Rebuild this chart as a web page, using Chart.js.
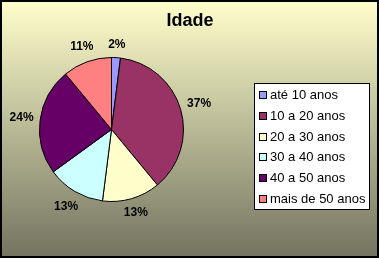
<!DOCTYPE html>
<html lang="pt">
<head>
  <meta charset="UTF-8" />
  <title>Idade</title>
  <script src="https://cdn.jsdelivr.net/npm/chart.js@4.4.1/dist/chart.umd.min.js"></script>
  <style>
    html, body { margin: 0; padding: 0; background: #fff; }
    #chart { display: block; }
  </style>
</head>
<body>
  <canvas id="chart" width="379" height="258"></canvas>

  <script>
    // dados
    const faixas = ['até 10 anos', '10 a 20 anos', '20 a 30 anos', '30 a 40 anos', '40 a 50 anos', 'mais de 50 anos'];
    const percentuais = [2, 37, 13, 13, 24, 11];
    const cores = ['#9999FF', '#993366', '#FFFFCC', '#CCFFFF', '#660066', '#FF8080'];
    const titulo = 'Idade';

    // fundo em degrade + moldura preta
    const fundo = {
      id: 'fundo',
      beforeDraw(chart) {
        const c = chart.ctx;
        const g = c.createLinearGradient(0, 0, 0, chart.height);
        g.addColorStop(0, '#FFFFCC');
        g.addColorStop(1, '#737360');
        c.save();
        c.fillStyle = g;
        c.fillRect(0, 0, chart.width, chart.height);
        c.strokeStyle = '#000';
        c.lineWidth = 2;
        c.strokeRect(1, 1, chart.width - 2, chart.height - 2);
        c.restore();
      }
    };

    // titulo, rotulos de porcentagem e legenda
    const extras = {
      id: 'extras',
      afterDraw(chart) {
        const c = chart.ctx;
        c.save();
        c.fillStyle = '#000';
        c.textAlign = 'center';
        c.textBaseline = 'middle';
        c.font = 'bold 18px Arial, "Liberation Sans"';
        c.fillText(titulo, 190, 21);

        c.font = 'bold 12px Arial, "Liberation Sans"';
        const meta = chart.getDatasetMeta(0);
        meta.data.forEach((arc, i) => {
          const p = arc.getProps(['x', 'y', 'startAngle', 'endAngle', 'outerRadius'], true);
          const a = (p.startAngle + p.endAngle) / 2;
          const txt = percentuais[i] + '%';
          const hw = c.measureText(txt).width / 2;
          const hh = 6;
          const d = p.outerRadius + 6 + hw * Math.abs(Math.cos(a)) + hh * Math.abs(Math.sin(a));
          c.fillText(txt, p.x + Math.cos(a) * d, p.y + Math.sin(a) * d);
        });

        // legenda
        const lx = 254, ly = 83, lw = 115, lh = 126;
        c.fillStyle = '#fff';
        c.fillRect(lx, ly, lw, lh);
        c.strokeStyle = '#000';
        c.lineWidth = 1;
        c.strokeRect(lx + 0.5, ly + 0.5, lw, lh);
        c.font = '13px Arial, "Liberation Sans"';
        c.textAlign = 'left';
        faixas.forEach((f, i) => {
          const y = 95 + i * 20.8;
          c.fillStyle = cores[i];
          c.fillRect(lx + 5.5, Math.round(y) - 3.5, 7, 7);
          c.strokeRect(lx + 5.5, Math.round(y) - 3.5, 7, 7);
          c.fillStyle = '#000';
          c.fillText(f, lx + 16, y + 0.5);
        });
        c.restore();
      }
    };

    const ctx = document.getElementById('chart');
    const myChart = new Chart(ctx, {
      type: 'pie',
      data: {
        labels: faixas,
        datasets: [{
          data: percentuais,
          backgroundColor: cores,
          borderColor: '#000',
          borderWidth: 1
        }]
      },
      options: {
        responsive: false,
        animation: false,
        layout: { padding: { left: 39, right: 195, top: 57, bottom: 56 } },
        plugins: {
          legend: { display: false },
          title: { display: false },
          tooltip: { enabled: false }
        }
      },
      plugins: [fundo, extras]
    });
  </script>
</body>
</html>
